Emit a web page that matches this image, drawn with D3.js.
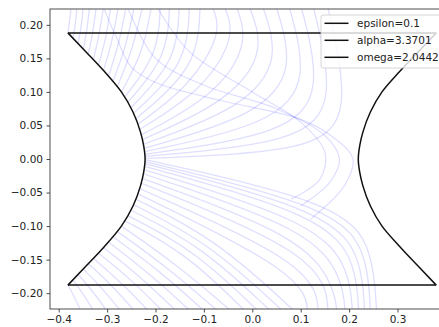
<!DOCTYPE html>
<html>
<head>
<meta charset="utf-8">
<script src="https://cdn.jsdelivr.net/npm/d3@7"></script>
<style>
  body { margin: 0; background: #fff; }
  text { font-family: "DejaVu Sans", sans-serif; }
</style>
</head>
<body>
<svg id="chart" width="439" height="327"></svg>
<script>
// boundary of the region (black lines)
const bndY = [0.188, 0.16, 0.13, 0.1, 0.07, 0.04, 0.02, 0, -0.02, -0.04, -0.07, -0.1, -0.13, -0.16, -0.188];
const leftX = [-0.381, -0.344, -0.305, -0.2705, -0.2465, -0.231, -0.2245, -0.2215,
  -0.2245, -0.231, -0.2465, -0.2705, -0.305, -0.344, -0.381];
const rightX = [0.38, 0.343, 0.304, 0.268, 0.244, 0.2285, 0.222, 0.219,
  0.222, 0.2285, 0.244, 0.268, 0.304, 0.343, 0.38];
const edgeY = [0.188, -0.188];
const edgeX = [-0.381, 0.38];

// faint trajectories: control points (x, y)
const upperCurves = [
  [[-0.381, 0.188], [-0.377, 0.207], [-0.374, 0.23]],
  [[-0.3705, 0.18], [-0.365, 0.2025], [-0.362, 0.23]],
  [[-0.36, 0.172], [-0.353, 0.198], [-0.349, 0.23]],
  [[-0.349, 0.164], [-0.341, 0.194], [-0.336, 0.23]],
  [[-0.339, 0.156], [-0.329, 0.189], [-0.322, 0.23]],
  [[-0.3285, 0.148], [-0.316, 0.185], [-0.307, 0.23]],
  [[-0.318, 0.14], [-0.302, 0.18], [-0.292, 0.23]],
  [[-0.3075, 0.132], [-0.289, 0.176], [-0.276, 0.23]],
  [[-0.297, 0.124], [-0.275, 0.172], [-0.26, 0.23]],
  [[-0.288, 0.116], [-0.261, 0.167], [-0.243, 0.23]],
  [[-0.279, 0.108], [-0.247, 0.163], [-0.226, 0.23]],
  [[-0.2705, 0.1], [-0.225, 0.16], [-0.208, 0.23]],
  [[-0.264, 0.092], [-0.194, 0.157], [-0.19, 0.23]],
  [[-0.258, 0.084], [-0.175, 0.153], [-0.171, 0.23]],
  [[-0.2515, 0.076], [-0.155, 0.148], [-0.151, 0.23]],
  [[-0.2455, 0.068], [-0.134, 0.143], [-0.13, 0.23]],
  [[-0.2405, 0.06], [-0.112, 0.138], [-0.108, 0.23]],
  [[-0.236, 0.052], [-0.13, 0.1077], [-0.06, 0.19], [-0.085, 0.23]],
  [[-0.233, 0.044], [-0.102, 0.1025], [-0.032, 0.185], [-0.06, 0.23]],
  [[-0.2295, 0.036], [-0.075, 0.095], [-0.005, 0.175], [-0.035, 0.23]],
  [[-0.2275, 0.029], [-0.046, 0.087], [0.029, 0.163], [-0.008, 0.23]],
  [[-0.2255, 0.022], [-0.016, 0.077], [0.059, 0.15], [0.02, 0.23]],
  [[-0.2238, 0.016], [0.014, 0.0652], [0.089, 0.1355], [0.048, 0.23]],
  [[-0.2228, 0.011], [0.043, 0.0518], [0.118, 0.1195], [0.075, 0.23]],
  [[-0.2222, 0.007], [0.071, 0.037], [0.146, 0.102], [0.1, 0.23]],
  [[-0.2218, 0.004], [0.098, 0.024], [0.173, 0.087], [0.125, 0.23]],
  [[-0.2215, 0.001], [0.13, 0.01], [0.205, 0.071], [0.155, 0.23]]
];
const lowerCurves = [
  [[-0.381, -0.188], [-0.3665, -0.207], [-0.352, -0.23]],
  [[-0.3705, -0.18], [-0.348, -0.2025], [-0.325, -0.23]],
  [[-0.36, -0.172], [-0.3285, -0.198], [-0.297, -0.23]],
  [[-0.349, -0.164], [-0.3085, -0.194], [-0.268, -0.23]],
  [[-0.339, -0.156], [-0.289, -0.189], [-0.239, -0.23]],
  [[-0.3285, -0.148], [-0.269, -0.185], [-0.21, -0.23]],
  [[-0.318, -0.14], [-0.2495, -0.18], [-0.181, -0.23]],
  [[-0.3075, -0.132], [-0.23, -0.176], [-0.152, -0.23]],
  [[-0.297, -0.124], [-0.21, -0.172], [-0.123, -0.23]],
  [[-0.288, -0.116], [-0.191, -0.167], [-0.094, -0.23]],
  [[-0.279, -0.108], [-0.1725, -0.163], [-0.066, -0.23]],
  [[-0.2705, -0.1], [-0.154, -0.1585], [-0.038, -0.23]],
  [[-0.264, -0.092], [-0.137, -0.14], [-0.01, -0.23]],
  [[-0.258, -0.084], [-0.1205, -0.135], [0.017, -0.23]],
  [[-0.2515, -0.076], [-0.104, -0.13], [0.043, -0.23]],
  [[-0.2455, -0.068], [-0.089, -0.125], [0.068, -0.23]],
  [[-0.2405, -0.06], [-0.074, -0.1195], [0.092, -0.23]],
  [[-0.236, -0.052], [0.105, -0.172], [0.115, -0.23]],
  [[-0.233, -0.044], [0.127, -0.159], [0.137, -0.23]],
  [[-0.2295, -0.036], [0.147, -0.1455], [0.157, -0.23]],
  [[-0.2275, -0.029], [0.105, -0.116], [0.17, -0.192], [0.175, -0.23]],
  [[-0.2255, -0.022], [0.122, -0.1055], [0.187, -0.18], [0.192, -0.23]],
  [[-0.2238, -0.016], [0.137, -0.0958], [0.202, -0.169], [0.207, -0.23]],
  [[-0.2228, -0.011], [0.15, -0.085], [0.215, -0.157], [0.22, -0.23]],
  [[-0.2222, -0.007], [0.162, -0.0788], [0.227, -0.15], [0.232, -0.23]],
  [[-0.2218, -0.004], [0.174, -0.0726], [0.239, -0.143], [0.244, -0.23]],
  [[-0.2215, -0.001], [0.185, -0.066], [0.25, -0.1355], [0.257, -0.23]]
];
const archCurves = [
  [[-0.31, 0.23], [-0.28, 0.18], [-0.25, 0.137], [-0.2, 0.114], [-0.07, 0.088], [0.104, 0.058],
   [0.175, 0.028], [0.208, 0.0], [0.19, -0.04], [0.12, -0.09]],
  [[-0.26, 0.23], [-0.2, 0.15], [-0.1, 0.11], [0.05, 0.075], [0.15, 0.035], [0.18, 0.0],
   [0.16, -0.035], [0.1, -0.07]],
  [[-0.2, 0.23], [-0.13, 0.16], [0.0, 0.1], [0.1, 0.055], [0.15, 0.01], [0.14, -0.03], [0.08, -0.06]]
];

const xTicks = [-0.4, -0.3, -0.2, -0.1, 0.0, 0.1, 0.2, 0.3];
const yTicks = [0.20, 0.15, 0.10, 0.05, 0.00, -0.05, -0.10, -0.15, -0.20];
const legendLabels = ['epsilon=0.1', 'alpha=3.3701', 'omega=2.0442'];

const svg = d3.select('#chart');
const x = d3.scaleLinear().domain([-0.418, 0.418]).range([50, 454.6]);
const y = d3.scaleLinear().domain([-0.2236, 0.2236]).range([309, 9]);

svg.append('clipPath').attr('id', 'plot')
  .append('rect').attr('x', 50).attr('y', 9).attr('width', 404.6).attr('height', 300);

const plot = svg.append('g').attr('clip-path', 'url(#plot)');
const bspline = d3.line().x(d => x(d[0])).y(d => y(d[1])).curve(d3.curveBasis);
const through = d3.line().x(d => x(d[0])).y(d => y(d[1])).curve(d3.curveCatmullRom);

plot.selectAll('path.traj')
  .data(upperCurves.concat(lowerCurves))
  .enter().append('path')
  .attr('class', 'traj')
  .attr('d', bspline)
  .attr('fill', 'none')
  .attr('stroke', '#0000ff')
  .attr('stroke-opacity', 0.13)
  .attr('stroke-width', 1.3);

plot.selectAll('path.arch')
  .data(archCurves)
  .enter().append('path')
  .attr('class', 'arch')
  .attr('d', through)
  .attr('fill', 'none')
  .attr('stroke', '#0000ff')
  .attr('stroke-opacity', 0.13)
  .attr('stroke-width', 1.2);

// black boundary
const sideLine = d3.line().x(d => x(d[0])).y(d => y(d[1])).curve(d3.curveMonotoneY);
[leftX, rightX].forEach(xs => {
  plot.append('path').attr('d', sideLine(bndY.map((v, i) => [xs[i], v])))
    .attr('fill', 'none').attr('stroke', '#111').attr('stroke-width', 1.5);
});
edgeY.forEach(v => {
  plot.append('path')
    .attr('d', d3.line()([[x(edgeX[0]), y(v)], [x(edgeX[1]), y(v)]]))
    .attr('stroke', '#111').attr('stroke-width', 1.5);
});

// axes
const xAxis = svg.append('g').attr('transform', 'translate(0,309)')
  .call(d3.axisBottom(x).tickValues(xTicks).tickSize(3.5).tickPadding(3.5)
    .tickFormat(d => d3.format('.1f')(d).replace('-', '\u2212')));
const yAxis = svg.append('g').attr('transform', 'translate(50,0)')
  .call(d3.axisLeft(y).tickValues(yTicks).tickSize(3.5).tickPadding(3.5)
    .tickFormat(d => d3.format('.2f')(d).replace('-', '\u2212')));
[xAxis, yAxis].forEach(a => {
  a.select('.domain').remove();
  a.selectAll('line').attr('stroke', '#222').attr('stroke-width', 0.8);
  a.selectAll('text').attr('font-size', 10.5).attr('fill', '#222')
    .attr('font-family', 'DejaVu Sans');
});

svg.append('rect').attr('x', 50).attr('y', 9).attr('width', 404.6).attr('height', 300)
  .attr('fill', 'none').attr('stroke', '#222').attr('stroke-width', 0.8);

// legend
const leg = svg.append('g').attr('transform', 'translate(321,15)');
leg.append('rect').attr('width', 140).attr('height', 53).attr('rx', 2)
  .attr('fill', 'white').attr('fill-opacity', 0.8).attr('stroke', '#ccc').attr('stroke-width', 0.8);
legendLabels.forEach((t, i) => {
  const g = leg.append('g').attr('transform', `translate(0,${8.3 + i * 17})`);
  g.append('line').attr('x1', 3.5).attr('x2', 27.5).attr('stroke', '#111').attr('stroke-width', 1.5);
  g.append('text').attr('x', 36).attr('dy', '0.35em').attr('font-size', 10.5).attr('fill', '#222').text(t);
});
</script>
</body>
</html>
